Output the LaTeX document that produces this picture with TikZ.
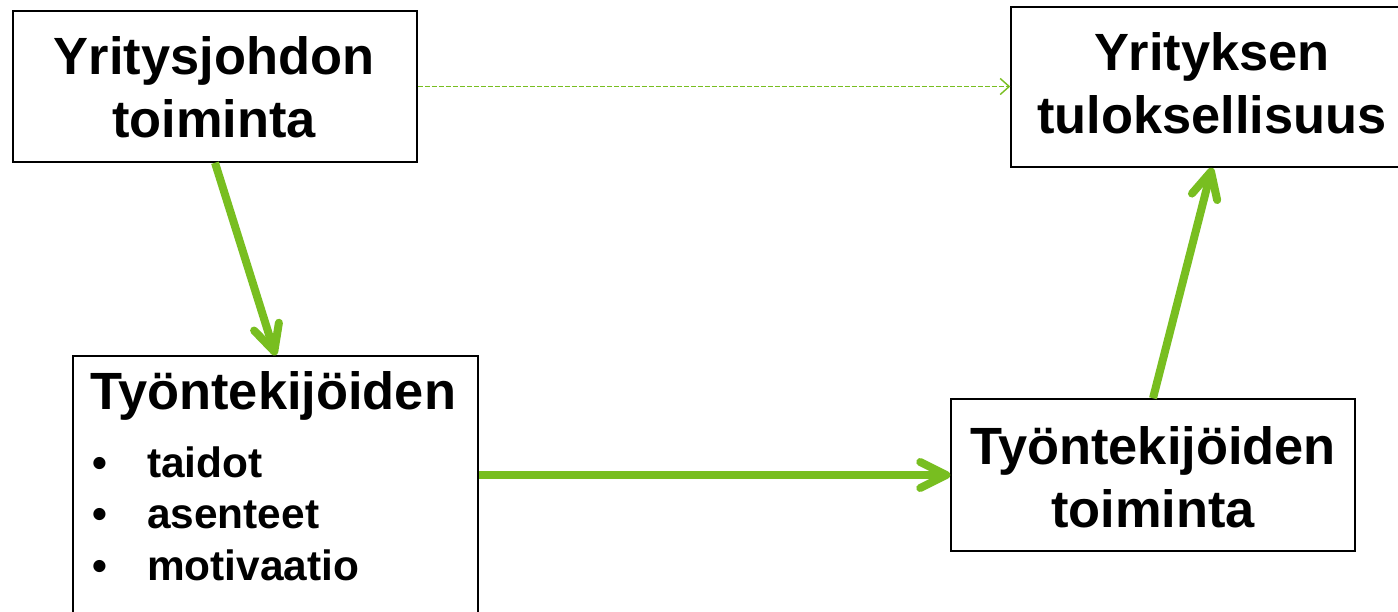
\documentclass[tikz,border=0pt]{standalone}
\usepackage{fontspec}
\setmainfont{Liberation Sans}
\usetikzlibrary{arrows.meta}
\definecolor{arrowgreen}{RGB}{120,190,32}
\tikzset{
  box/.style={draw=black, line width=1.5pt, rectangle, inner sep=0pt},
  bigtxt/.style={font=\fontsize{52.4}{63}\selectfont\bfseries, inner sep=0pt, anchor=base},
  smalltxt/.style={font=\fontsize{42.4}{51}\selectfont\bfseries, inner sep=0pt, anchor=base west},
  bullettxt/.style={font=\fontsize{42.4}{51}\selectfont\bfseries, inner sep=0pt, anchor=base},
  flow/.style={draw=arrowgreen, line width=8pt, line cap=butt,
    -{Straight Barb[length=26pt,width=26pt,line cap=round,line join=round]}},
  weak/.style={draw=arrowgreen, line width=1.4pt, dash pattern=on 5pt off 2pt,
    -{Straight Barb[length=9pt,width=16pt]}},
}
\begin{document}
\begin{tikzpicture}[x=1pt,y=-1pt]
\useasboundingbox (0,0) rectangle (1398,611);
\clip (0,0) rectangle (1398,611);
\fill[white] (0,0) rectangle (1398,611);
% boxes
\node[box, minimum width=404pt, minimum height=151pt] (A) at (215,86.5) {};
\node[box, minimum width=402pt, minimum height=160pt] (B) at (1212,87) {};
\node[box, minimum width=405pt, minimum height=284pt] (C) at (275.5,498) {};
\node[box, minimum width=404pt, minimum height=152pt] (D) at (1153,475) {};
% texts
\node[bigtxt] (a1) at (214,74) {Yritysjohdon};
\node[bigtxt] (a2) at (214,137) {toiminta};
\node[bigtxt] (b1) at (1212,70) {Yrityksen};
\node[bigtxt] (b2) at (1212,133) {tuloksellisuus};
\node[bigtxt, anchor=base west] (c0) at (90,409) {Työntekijöiden};
\node[bullettxt] (cb1) at (100,477) {•};
\node[bullettxt] (cb2) at (100,528) {•};
\node[bullettxt] (cb3) at (100,580) {•};
\node[smalltxt] (c1) at (147,477) {taidot};
\node[smalltxt] (c2) at (147,528) {asenteet};
\node[smalltxt] (c3) at (147,580) {motivaatio};
\node[bigtxt] (d1) at (1153,464) {Työntekijöiden};
\node[bigtxt] (d2) at (1153,527) {toiminta};
% connectors
\draw[weak] (A.east) -- (B.west |- A.east);
\draw[flow] (A.south) -- (C.north);
\draw[flow] (C.east |- D.west) -- (D.west);
\draw[flow] (D.north) -- (B.south);
\end{tikzpicture}
\end{document}
